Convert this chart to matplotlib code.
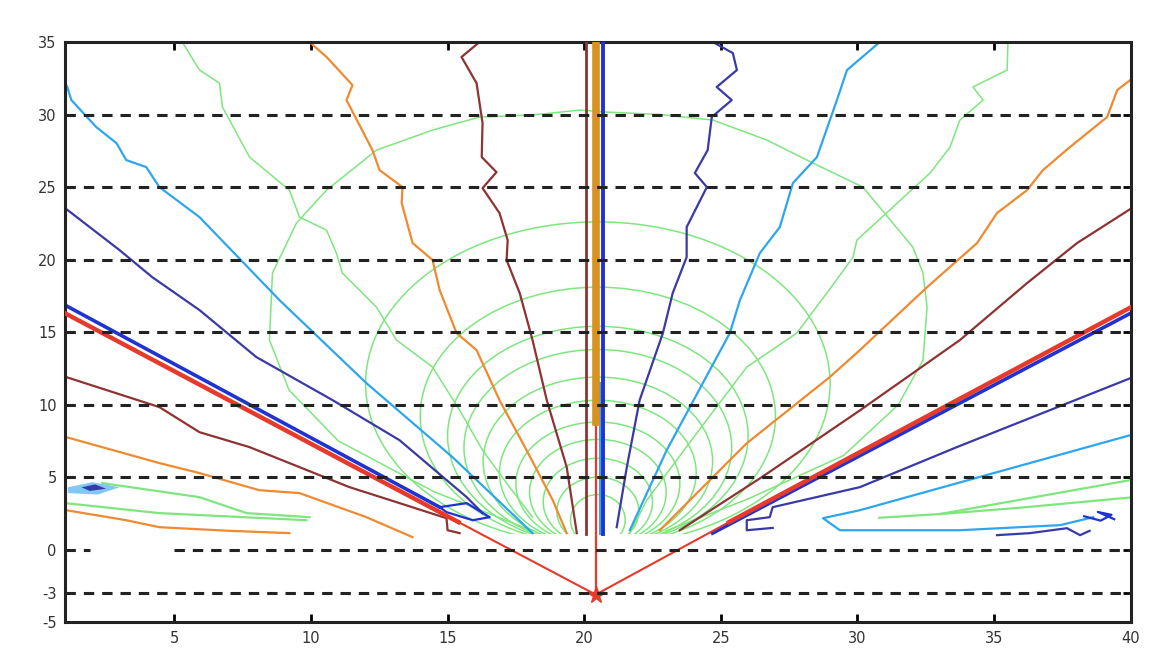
import matplotlib
matplotlib.use("Agg")
import matplotlib.pyplot as plt
from matplotlib.patches import Ellipse, Rectangle

plt.rcParams["axes.unicode_minus"] = False

# ---- values (data coordinates) ----
Y_TICKS = [-5, -3, 0, 5, 10, 15, 20, 25, 30, 35]
X_TICKS = [5, 10, 15, 20, 25, 30, 35, 40]
DASH_LEVELS = [-3, 5, 10, 15, 20, 25, 30]
ZERO_GAP = (1.9, 5.0)   # the y=0 dashed line is broken here

SOURCE_X, SOURCE_Y = 20.42, -3.1

# left fan
brown_jag_x = [16.17, 15.51, 16.06, 16.28, 16.25, 16.79, 16.28, 16.9, 17.2, 17.16, 17.64, 18.11, 18.63, 19.36, 19.73]
brown_jag_y = [35.0, 33.97, 32.17, 29.41, 27.07, 26.03, 24.93, 23.21, 21.34, 19.97, 17.69, 14.45, 10.31, 5.69, 1.14]
orange_jag_x = [9.95, 10.57, 11.52, 11.30, 12.25, 12.51, 13.35, 13.32, 13.72, 14.45, 14.71, 15.33, 16.06, 16.9, 17.89, 18.85, 19.36]
orange_jag_y = [35.0, 33.97, 32.03, 31.0, 27.55, 26.17, 25.0, 23.9, 21.14, 19.97, 17.9, 14.93, 13.76, 10.31, 6.86, 3.41, 1.14]
lblue_l_x = [1.0, 1.08, 1.23, 2.14, 2.88, 3.24, 3.97, 4.45, 5.92, 8.85, 12.03, 15.18, 18.11]
lblue_l_y = [32.17, 31.9, 31.0, 29.14, 28.03, 26.86, 26.38, 25.0, 22.93, 17.2, 11.48, 6.38, 1.14]
indigo_l_x = [1.0, 2.99, 4.19, 5.92, 8.0, 10.79, 13.24, 15.7, 16.28]
indigo_l_y = [23.55, 20.66, 18.79, 16.52, 13.28, 10.31, 7.55, 3.62, 2.52]
blue_l_x = [1.0, 14.71]
blue_l_y = [16.86, 2.93]
blue_loop_l_x = [14.71, 15.7, 16.54, 15.92, 14.96, 14.71]
blue_loop_l_y = [2.93, 3.21, 2.24, 2.03, 2.59, 2.93]
red_l_x = [1.0, 15.4, SOURCE_X]
red_l_y = [16.3, 1.9, SOURCE_Y]
brown_l_x = [1.04, 4.45, 5.92, 7.75, 9.58, 11.41, 13.24, 14.96, 15.0, 15.44]
brown_l_y = [11.9, 9.83, 8.1, 7.07, 5.69, 4.31, 3.21, 2.17, 1.34, 1.14]
orange_l_x = [1.04, 4.45, 5.92, 8.11, 9.58, 12.03, 13.72]
orange_l_y = [7.76, 5.97, 5.28, 4.1, 3.9, 2.24, 0.86]
orange_l2_x = [1.04, 3.24, 4.45, 7.0, 9.21]
orange_l2_y = [2.72, 2.03, 1.55, 1.3, 1.14]
green_l1_x = [2.36, 5.92, 7.64, 9.95]
green_l1_y = [4.59, 3.62, 2.52, 2.24]
green_l2_x = [1.0, 4.45, 9.84]
green_l2_y = [3.21, 2.52, 2.03]
lblue_blob_x = [1.1, 2.0, 3.0, 2.2, 1.1]
lblue_blob_y = [4.3, 4.65, 4.3, 3.8, 3.9]
indigo_blob_x = [1.6, 2.1, 2.5, 1.9, 1.6]
indigo_blob_y = [4.3, 4.5, 4.2, 4.05, 4.3]

# right fan
indigo_r_x = [24.71, 25.44, 25.59, 24.85, 25.4, 24.67, 24.52, 24.05, 24.49, 23.75, 23.75, 23.24, 22.88, 22.03, 21.56, 21.19]
indigo_r_y = [35.0, 34.24, 33.07, 31.9, 31.0, 29.83, 27.55, 25.97, 25.0, 22.24, 20.17, 17.69, 14.93, 10.31, 5.69, 1.55]
lblue_r_x = [30.82, 29.62, 29.25, 28.52, 27.64, 27.16, 26.43, 25.7, 25.33, 24.34, 23.02, 21.67]
lblue_r_y = [35.0, 33.07, 31.0, 27.07, 25.28, 22.24, 20.45, 17.2, 14.93, 11.48, 6.86, 1.34]
orange_r_x = [40.0, 39.51, 39.14, 37.78, 36.79, 36.21, 35.11, 34.38, 32.55, 30.09, 28.99, 25.95, 22.77]
orange_r_y = [32.4, 31.69, 29.83, 27.76, 26.17, 24.79, 23.21, 21.14, 18.1, 13.76, 11.9, 7.34, 1.34]
brown_r_x = [40.0, 38.04, 36.21, 33.75, 30.09, 26.5, 23.5]
brown_r_y = [23.5, 21.14, 18.38, 14.45, 9.6, 5.0, 1.34]
red_r_x = [SOURCE_X, 25.3, 40.0]
red_r_y = [SOURCE_Y, 1.9, 16.7]
blue_r_x = [24.7, 40.0]
blue_r_y = [1.14, 16.3]
indigo_r2_x = [40.0, 33.64, 30.09, 26.9, 26.79, 25.95, 25.95, 26.9]
indigo_r2_y = [11.83, 7.07, 4.31, 2.93, 2.24, 2.03, 1.34, 1.5]
lblue_r2_x = [40.0, 30.09, 28.74, 29.36, 33.75, 37.42, 38.63]
lblue_r2_y = [7.9, 2.72, 2.17, 1.34, 1.34, 1.69, 2.24]
green_r1_x = [30.8, 33.0, 40.0]
green_r1_y = [2.2, 2.45, 4.8]
green_r2_x = [33.0, 36.0, 40.0]
green_r2_y = [2.45, 2.9, 3.6]
indigo_r3_x = [35.11, 36.32, 37.67, 38.15, 38.5]
indigo_r3_y = [1.0, 1.14, 1.48, 1.0, 1.3]
blue_tangle_r_x = [38.3, 38.9, 39.3, 38.8, 39.4]
blue_tangle_r_y = [2.3, 2.0, 2.4, 2.6, 2.1]

# green field lines
green_fl_l_x = [5.29, 5.92, 6.65, 6.76, 7.75, 9.21, 9.58, 10.57, 10.93, 11.15, 12.4, 13.13, 14.45, 15.44, 16.28, 17.27, 18.11]
green_fl_l_y = [35.0, 33.07, 32.17, 30.52, 27.07, 24.79, 22.93, 22.03, 20.45, 19.07, 16.72, 14.45, 12.59, 9.62, 6.86, 4.31, 2.24]
green_fl_r_x = [35.51, 35.48, 34.23, 34.6, 33.75, 33.39, 32.66, 31.3, 29.98, 29.84, 28.88, 27.78, 25.95, 24.12, 22.29, 21.67]
green_fl_r_y = [35.0, 33.07, 31.9, 31.0, 29.62, 27.76, 25.97, 23.62, 21.34, 20.17, 17.69, 14.93, 12.59, 8.03, 3.41, 1.14]

# outermost green contour (flat-topped), traced point by point
green_outer_x = [18.1, 14.5, 11.0, 9.2, 8.48, 8.59, 9.47, 10.57, 12.4, 14.45, 16.17, 18.11, 19.84,
                 20.82, 22.8, 24.71, 26.69, 28.37, 30.2, 32.03, 32.4, 32.55, 32.4, 31.5, 29.5, 26.0, 23.0]
green_outer_y = [1.3, 4.0, 7.5, 11.0, 14.45, 19.07, 22.52, 24.79, 27.55, 28.93, 29.83, 29.97, 30.31,
                 30.17, 30.0, 29.62, 28.24, 26.66, 25.0, 20.86, 19.07, 16.72, 13.07, 10.0, 6.5, 3.5, 1.3]

# inner green contours around the central axis
arc_cx = 20.5
arc_cy = [11.45, 9.2, 7.85, 7.05, 6.1, 5.3, 4.55, 3.95, 3.3, 2.65, 2.05]
arc_w = [17.0, 13.0, 11.0, 9.8, 8.4, 7.2, 6.0, 5.0, 4.0, 3.0, 2.0]
arc_h = [22.3, 17.8, 15.1, 13.5, 11.6, 10.0, 8.5, 7.3, 6.0, 4.7, 3.5]
ARC_FLOOR = 1.1

# central vertical lines: x position, bottom, top
brown_v = (20.05, 1.1, 35.0)
orange_v = (20.42, 8.8, 35.0)
red_v = (20.42, SOURCE_Y, 8.8)
blue_v = (20.68, 1.1, 35.0)
lblue_v = (20.58, 1.1, 11.5)

# colours
GREEN = "#7fe67f"
LBLUE = "#2ea6ee"
INDIGO = "#3a3aa6"
BLUE = "#1f33d2"
ORANGE = "#f08a30"
BROWN = "#8e3232"
RED = "#e63a2a"
GOLD = "#d8921e"
DASH = "#222222"

fig = plt.figure(figsize=(11.62, 6.57), dpi=100)
ax = fig.add_axes([0.056, 0.053, 0.917, 0.883])

floor = Rectangle((0, ARC_FLOOR), 41, 40, transform=ax.transData, visible=False)
ax.add_patch(floor)
for cy, w, h in zip(arc_cy, arc_w, arc_h):
    e = Ellipse((arc_cx, cy), w, h, fill=False, ec=GREEN, lw=1.1, zorder=1)
    ax.add_patch(e)
    e.set_clip_path(floor)
ax.plot(green_outer_x, green_outer_y, color=GREEN, lw=1.1, zorder=1)

thin = 1.6
ax.plot(green_fl_l_x, green_fl_l_y, color=GREEN, lw=1.1, zorder=1)
ax.plot(green_fl_r_x, green_fl_r_y, color=GREEN, lw=1.1, zorder=1)
ax.plot(green_l1_x, green_l1_y, color=GREEN, lw=1.6, zorder=1)
ax.plot(green_l2_x, green_l2_y, color=GREEN, lw=1.6, zorder=1)
ax.plot(green_r1_x, green_r1_y, color=GREEN, lw=1.6, zorder=1)
ax.plot(green_r2_x, green_r2_y, color=GREEN, lw=1.6, zorder=1)

ax.plot(brown_jag_x, brown_jag_y, color=BROWN, lw=thin, zorder=2)
ax.plot(orange_jag_x, orange_jag_y, color=ORANGE, lw=thin, zorder=2)
ax.plot(lblue_l_x, lblue_l_y, color=LBLUE, lw=thin, zorder=2)
ax.plot(indigo_l_x, indigo_l_y, color=INDIGO, lw=thin, zorder=2)
ax.plot(brown_l_x, brown_l_y, color=BROWN, lw=thin, zorder=2)
ax.plot(orange_l_x, orange_l_y, color=ORANGE, lw=thin, zorder=2)
ax.plot(orange_l2_x, orange_l2_y, color=ORANGE, lw=thin, zorder=2)
ax.plot(blue_l_x, blue_l_y, color=BLUE, lw=2.6, zorder=2)
ax.plot(blue_loop_l_x, blue_loop_l_y, color=BLUE, lw=thin, zorder=2)
ax.fill(lblue_blob_x, lblue_blob_y, color=LBLUE, alpha=0.6, lw=0, zorder=2)
ax.fill(indigo_blob_x, indigo_blob_y, color=INDIGO, lw=0, zorder=2)

ax.plot(indigo_r_x, indigo_r_y, color=INDIGO, lw=thin, zorder=2)
ax.plot(lblue_r_x, lblue_r_y, color=LBLUE, lw=thin, zorder=2)
ax.plot(orange_r_x, orange_r_y, color=ORANGE, lw=thin, zorder=2)
ax.plot(brown_r_x, brown_r_y, color=BROWN, lw=thin, zorder=2)
ax.plot(indigo_r2_x, indigo_r2_y, color=INDIGO, lw=thin, zorder=2)
ax.plot(lblue_r2_x, lblue_r2_y, color=LBLUE, lw=thin, zorder=2)
ax.plot(indigo_r3_x, indigo_r3_y, color=INDIGO, lw=thin, zorder=2)
ax.plot(blue_tangle_r_x, blue_tangle_r_y, color=BLUE, lw=thin, zorder=2)
ax.plot(blue_r_x, blue_r_y, color=BLUE, lw=2.6, zorder=2)

# vertical bundle at the centre
ax.plot([brown_v[0]] * 2, brown_v[1:], color=BROWN, lw=2.0, zorder=3)
ax.plot([lblue_v[0]] * 2, lblue_v[1:], color=LBLUE, lw=1.5, zorder=3)
ax.plot([blue_v[0]] * 2, blue_v[1:], color=BLUE, lw=2.8, zorder=3)
ax.plot([red_v[0]] * 2, red_v[1:], color=RED, lw=1.6, zorder=3)
ax.plot([orange_v[0]] * 2, orange_v[1:], color=GOLD, lw=5.5, zorder=3)

# red guide rays from the source
ax.plot(red_l_x[:2], red_l_y[:2], color=RED, lw=3.2, zorder=3)
ax.plot(red_l_x[1:], red_l_y[1:], color=RED, lw=1.5, zorder=3)
ax.plot(red_r_x[1:], red_r_y[1:], color=RED, lw=3.2, zorder=3)
ax.plot(red_r_x[:2], red_r_y[:2], color=RED, lw=1.5, zorder=3)
ax.plot([SOURCE_X], [SOURCE_Y], marker="*", color=RED, ms=13, zorder=4)

# dashed reference levels
for lev in DASH_LEVELS:
    ax.axhline(lev, color=DASH, lw=2.2, dashes=(3.4, 2.6), zorder=5)
ax.hlines(0, 1, ZERO_GAP[0], color=DASH, lw=2.2, linestyles=(0, (3.4, 2.6)), zorder=5)
ax.hlines(0, ZERO_GAP[1], 40, color=DASH, lw=2.2, linestyles=(0, (3.4, 2.6)), zorder=5)

ax.set_xlim(1, 40)
ax.set_ylim(-5, 35)
ax.set_xticks(X_TICKS)
ax.set_yticks(Y_TICKS)
ax.tick_params(direction="in", length=6, width=2, top=True, right=True,
               labelsize=10.5, labelcolor="#333333", pad=6)
for sp in ax.spines.values():
    sp.set_linewidth(2.2)
    sp.set_color("#222222")

fig.savefig("out.png", dpi=100)
